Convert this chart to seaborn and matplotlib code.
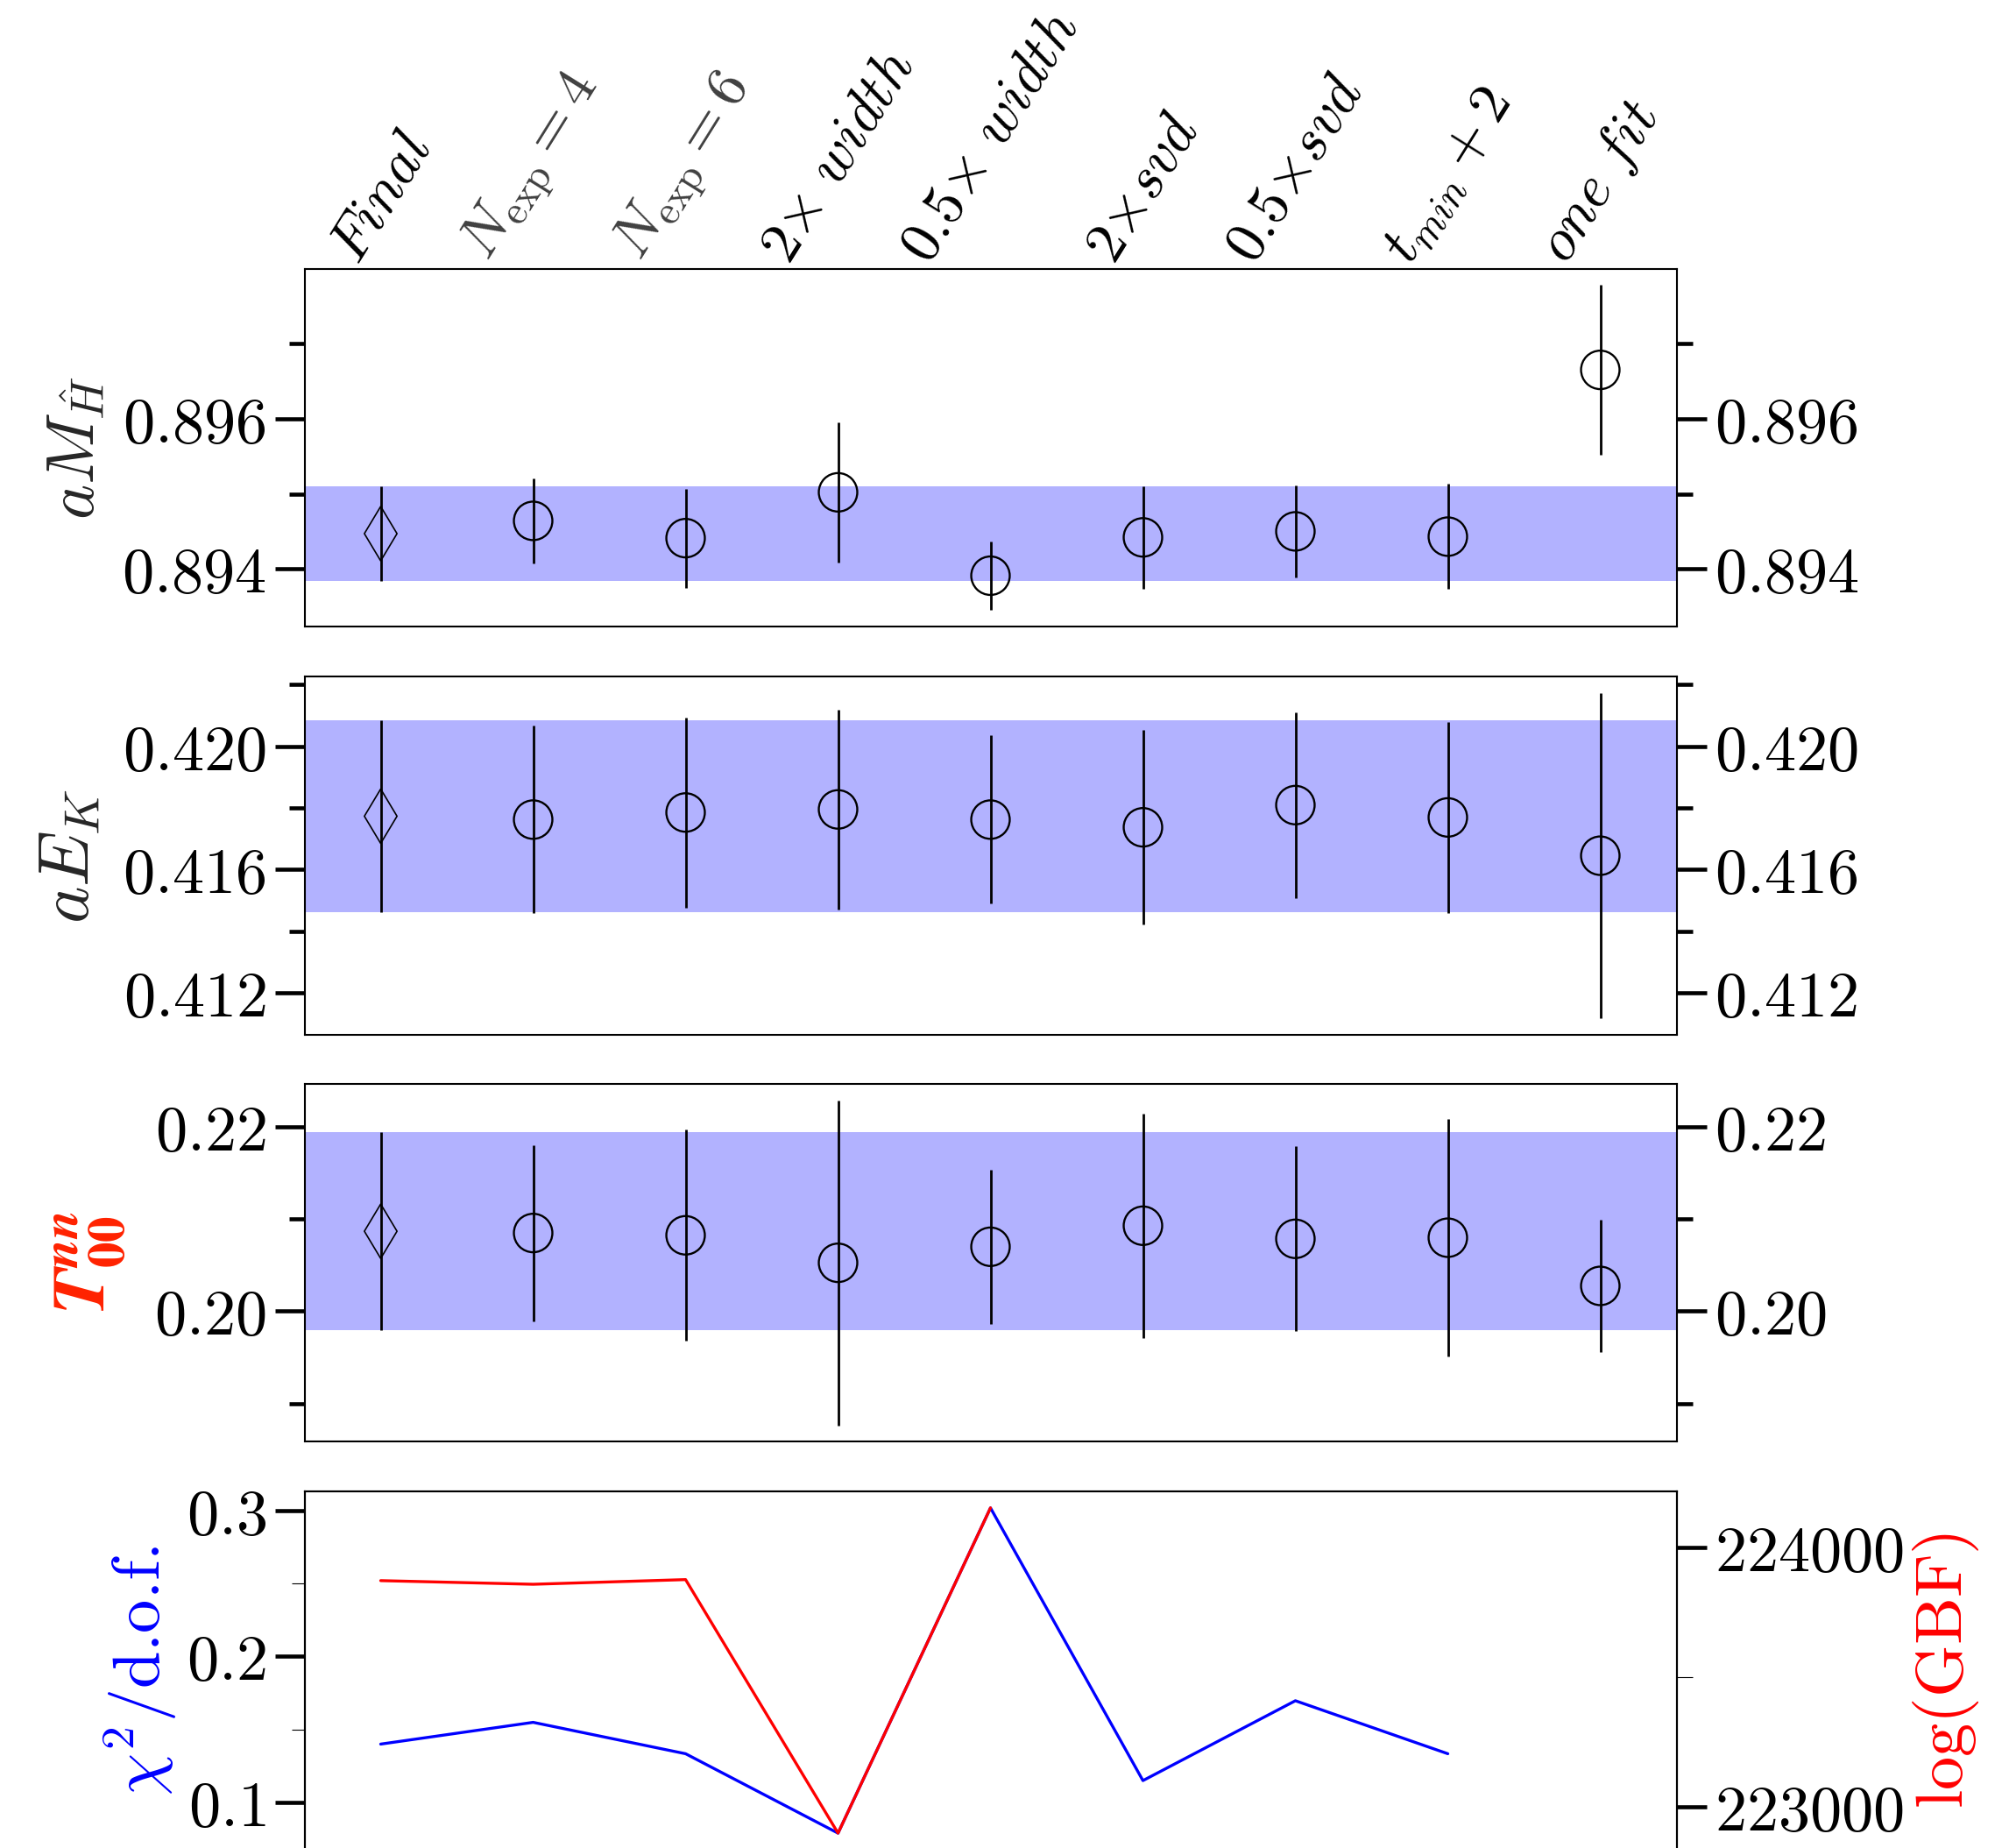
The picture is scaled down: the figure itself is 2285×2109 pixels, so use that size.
import numpy as np
import matplotlib
matplotlib.use("Agg")
import matplotlib.pyplot as plt
import seaborn as sns
import pandas as pd

# ---------------- data ----------------
fit_labels = [r"$Final$", r"$N_{\mathrm{exp}} = 4$", r"$N_{\mathrm{exp}} = 6$",
              r"$2{\times}\ width$", r"$0.5{\times}\ width$", r"$2{\times}svd$",
              r"$0.5{\times}svd$", r"$t_{min} + 2$", r"$one\ fit$"]

mh = [0.89447, 0.89464, 0.89441, 0.89502, 0.89391, 0.89442, 0.89450, 0.89443, 0.89665]
mh_err = [0.00063, 0.00057, 0.00066, 0.00093, 0.00046, 0.00068, 0.00061, 0.00070, 0.00113]

ek = [0.41773, 0.41762, 0.41785, 0.41795, 0.41762, 0.41737, 0.41809, 0.41769, 0.41645]
ek_err = [0.00310, 0.00304, 0.00308, 0.00324, 0.00273, 0.00315, 0.00301, 0.00309, 0.00527]

t00 = [0.20865, 0.20846, 0.20821, 0.20523, 0.20697, 0.20925, 0.20783, 0.20795, 0.20273]
t00_err = [0.01070, 0.00954, 0.01144, 0.01762, 0.00838, 0.01217, 0.01001, 0.01285, 0.00721]

chi2_dof = [0.1400, 0.1549, 0.1334, 0.0790, 0.3018, 0.1150, 0.1697, 0.1334, np.nan]
log_gbf = [223871, 223857, 223875, 222899, 224151, np.nan, np.nan, np.nan, np.nan]

mh_ticks = [0.894, 0.896]; mh_minor = [0.895, 0.897]
ek_ticks = [0.412, 0.416, 0.420]; ek_minor = [0.414, 0.418, 0.422]
t_ticks = [0.20, 0.22]; t_minor = [0.19, 0.21]
chi_ticks = [0.1, 0.2, 0.3]; chi_minor = [0.15, 0.25]
gbf_ticks = [223000, 224000]; gbf_minor = [223500]

# ---------------- style ----------------
sns.set_theme(style="ticks")
plt.rcParams.update({
    "font.family": ["DejaVu Sans"],
    "mathtext.fontset": "cm",
    "axes.linewidth": 1.5,
    "axes.edgecolor": "black",
    "xtick.color": "black",
    "ytick.color": "black",
    "axes.facecolor": "white",
    "figure.facecolor": "white",
})

TICK_FS = 52
LAB_FS = 55

fig = plt.figure(figsize=(22.85, 21.09), dpi=100)
left, width, height = 0.15208, 0.68534, 0.19360
bottoms = [0.66098, 0.44016, 0.21986, -0.00076]
axes = [fig.add_axes([left, b, width, height]) for b in bottoms]

x = np.arange(len(fit_labels))


def fmt(v, nd):
    return r"$%.*f$" % (nd, v)


def value_panel(ax, vals, errs, ticks, minor, nd):
    ax.axhspan(vals[0] - errs[0], vals[0] + errs[0], color="blue", alpha=0.3, lw=0, zorder=0)
    ax.errorbar(x, vals, yerr=errs, fmt="none", ecolor="black", elinewidth=2.0, capsize=0, zorder=2)
    sns.scatterplot(x=x[:1], y=vals[:1], marker="d", s=1000, facecolor="none",
                    edgecolor="black", linewidth=1.2, ax=ax, zorder=3, legend=False)
    sns.scatterplot(x=x[1:], y=vals[1:], marker="o", s=1000, facecolor="none",
                    edgecolor="black", linewidth=1.7, ax=ax, zorder=3, legend=False)
    ax.set_xlim(-0.5, 8.5)
    ax.set_yticks(ticks, labels=[fmt(t, nd) for t in ticks])
    ax.set_yticks(minor, minor=True)
    ax.tick_params(axis="y", which="major", direction="out", length=24.5, width=3.3,
                   labelsize=TICK_FS, right=True, labelright=True, left=True, pad=7)
    ax.tick_params(axis="y", which="minor", direction="out", length=13, width=3.3,
                   right=True, left=True)
    ax.tick_params(axis="x", which="both", bottom=False, labelbottom=False, top=False)
    ax.set_xlabel("")


value_panel(axes[0], mh, mh_err, mh_ticks, mh_minor, 3)
value_panel(axes[1], ek, ek_err, ek_ticks, ek_minor, 3)
value_panel(axes[2], t00, t00_err, t_ticks, t_minor, 2)

# top category labels
ax0 = axes[0]
ax0.set_xticks(x, labels=fit_labels)
ax0.tick_params(axis="x", top=True, labeltop=True, bottom=False, labelbottom=False,
                length=0, pad=-3, labelsize=48)
for i, lab in enumerate(ax0.get_xticklabels()):
    lab.set_rotation(58)
    if i in (1, 2):
        lab.set_color("#404040")

axes[0].set_ylabel(r"$aM_{\hat{H}}$", fontsize=LAB_FS, labelpad=12)
axes[1].set_ylabel(r"$aE_K$", fontsize=LAB_FS + 3, labelpad=16)
axes[2].set_ylabel(r"$\mathbfit{T}^{\mathbfit{nn}}_{\mathbf{00}}$", fontsize=LAB_FS + 6,
                   labelpad=22, color="#ff2200", math_fontfamily="stix")

# bottom panel: chi2/dof and log(GBF)
ax4 = axes[3]
sns.lineplot(x=x, y=chi2_dof, color="blue", lw=2.4, ax=ax4, errorbar=None, estimator=None)
ax4r = ax4.twinx()
sns.lineplot(x=x, y=log_gbf, color="red", lw=2.4, ax=ax4r, errorbar=None, estimator=None)
ax4.set_xlim(-0.5, 8.5)
ax4.set_yticks(chi_ticks, labels=[fmt(t, 1) for t in chi_ticks])
ax4.set_yticks(chi_minor, minor=True)
ax4.tick_params(axis="y", which="major", direction="out", length=24.5, width=3.3,
                labelsize=TICK_FS, pad=7)
ax4.tick_params(axis="y", which="minor", direction="out", length=11, width=0.8)
ax4.tick_params(axis="x", which="both", bottom=False, labelbottom=False, top=False)
ax4r.set_yticks(gbf_ticks, labels=[r"$%d$" % t for t in gbf_ticks])
ax4r.set_yticks(gbf_minor, minor=True)
ax4r.tick_params(axis="y", which="major", direction="out", length=24.5, width=3.3,
                 labelsize=TICK_FS, pad=7)
ax4r.tick_params(axis="y", which="minor", direction="out", length=13, width=0.8)
ax4r.tick_params(axis="x", which="both", bottom=False, labelbottom=False, top=False)
ax4.set_xlabel("")
ax4.set_ylabel(r"$\chi^2/$d.o.f.", fontsize=LAB_FS, color="blue", labelpad=6,
               fontfamily="cmr10")
ax4r.set_ylabel(r"$\log(\mathrm{GBF})$", fontsize=LAB_FS, color="red", labelpad=6)

for ax in axes + [ax4r]:
    for sp in ax.spines.values():
        sp.set_linewidth(1.5)
        sp.set_color("black")

fig.savefig("out.png", dpi=100)
